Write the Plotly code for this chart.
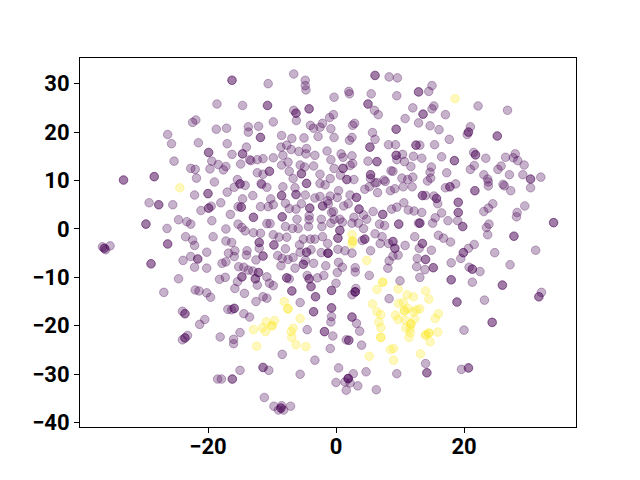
import plotly.graph_objects as go

# Estimated values; overlapping (darker) marks are listed twice.
purple_x = [-16.25,-16.25,-18.6,-14.6,-21.9,-22.4,-18.7,-17.1,-13.7,-13.7,-26.3,-25.7,-21.5,-17.0,-14,-19.9,-19.9,-16.25,-14.6,-14.6,-13.5,-25.3,-19.4,-18.4,-14.9,-22.7,-22.0,-19.7,-17.2,-17.6,-21.8,-33.2,-33.2,-28.4,-28.4,-19,-15.4,
-6.6,-10.6,-4.8,-4.8,-4.7,6.1,6.1,8.3,9.6,2.0,2.1,5.5,-0.3,12.9,12.9,9.5,5.0,5.0,-10.7,-10.7,-4.2,-4.2,-6.6,6.0,6.6,12.0,-6.25,-6.25,-6.2,-0.4,-1.0,10.8,-9.8,12.9,2.9,2.6,-2.1,-4.0,-3.5,-2.5,-12.1,-0.8,9.4,9.4,-2.8,-0.3,-8.5,-6.9,-5.0,-11.8,-11.8,5.7,6.1,2.5,2.1,5.3,5.3,8.2,9.3,12.5,12.5,-8.6,-7.7,-7.0,-5.8,-4.6,-4.7,-3.3,-1.4,0.8,1.1,2.5,-8.3,-9.8,-11.4,-12.3,-13.3,-0.8,9.4,9.4,10.4,9.5,10.7,12.1,5.0,6.4,6.4,11.7,-7.5,-8.5,-5.6,-4.9,-3.5,2.6,2.2,1.1,1.1,-0.3,8.9,8.6,-10.4,-10.4,-12.3,-11.4,-7.3,-5.4,-5.4,-2.5,5.4,5.4,0.7,-6.7,-0.9,1.7,1.7,2.8,5.4,7.5,10.3,12,11.2,-4.6,-4.6,-11.7,6.1,
15.0,14.5,22.2,26.8,15.3,15,13.6,13.6,17.1,14.7,16.1,21.0,20.7,20.7,20.5,25.2,25.2,17.7,15.4,13.1,21.5,21.8,21.8,23.4,16.5,13.4,18.5,18.5,28,26.5,27.7,28.4,29.4,21.6,21,25.8,25.3,14.9,14.7,17.3,23.1,23.7,27.1,29.2,30.4,30.4,32,14.8,14.3,18.7,26.1,23.8,
-22.1,-20.0,-20.0,-17,-15.9,-15,-15,-14.2,-14.6,-29.2,-27.7,-27.7,-25.5,-21.1,-19.9,-19.9,-19.5,-18,-15.3,-14.8,-14.8,-16.5,-24.6,-23.3,-22.7,-19.4,-29.7,-29.7,-26.4,-17.2,-15.3,-14.7,-14.2,-23.5,-19.2,-22.4,-22.1,-26.3,-26.3,-17.2,-16.3,-35.3,-36.5,-36.2,-36.2,-36,-15.8,-16.8,-15.9,-13.9,-14,-20.2,-22.7,-21.6,-21.6,-23.9,-28.9,-28.9,-22.1,-20.2,-17.8,-17.2,-15.2,-14.4,-14.7,-14.7,-15.4,-18.2,-17.3,-24.6,-15.8,-14.3,-26.9,-22,-21.4,-20.2,-19.6,-13.7,
-11.6,-10.8,-8.3,-6.4,-2.5,-1.7,5.2,4.5,6.4,7.7,9.2,8.5,11.9,10.5,6.5,-13,-10.2,-8.5,-8.5,-6.25,-6.25,-4.8,-3.3,-2.5,-1.3,0.4,0.2,-0.9,2.2,3.2,3.2,-9.8,-10.6,-11.8,-7.9,-5.4,-7.3,-6.25,-4.1,-4.1,-2.1,-2.1,-1.2,1.9,1.2,-0.4,3.6,3.6,5.8,7.3,7.3,8.7,9.5,10.6,11.3,12.2,-12.9,-12.9,-8.4,-8.4,-4.2,-4.2,-2.3,-0.7,-0.3,0.6,2.8,4.3,4.8,-10.8,-10.3,-6.1,-7.9,-6.8,-5.9,-4.3,-2.2,-0.8,1.0,2.5,3.5,4.3,6.8,7.6,9.8,9.8,12.9,0.6,0.6,-12.9,-11.8,-9.8,-8.9,-7.7,0.3,0.3,6.1,7.2,4.5,4.5,4.1,-5.1,-4,-3.3,-2.1,-1.3,6.9,8.2,8.9,8.9,9.2,9.2,10.8,12.3,-12,-12,-12,-9.7,-9.7,-5.7,-7.9,-5.6,-4.6,-4.6,-3.9,-2.3,-1.25,-1.25,-1.25,0.3,1.4,2.5,5.4,-11.4,-11.4,-12.5,-9.1,-8.4,-7.5,-6.7,-4.8,-3.5,-5.1,-5.1,-1.6,0.4,8.3,8.9,9.7,8.1,12.7,12.6,-8.6,-6.4,-13,-12.1,-12.1,-4.5,0.2,1,3,3,5.2,10,-12.6,-12.6,-10.8,-7.7,-7.7,-7.3,-4.2,-4.2,-2.9,-1.9,-12.3,-10.4,-9.8,-3.9,-3.9,0,-6.9,-6.9,-0.7,-0.7,3,3,3,2.5,3.1,8.3,-3.2,-3.2,-11.4,-10.8,-12.5,-5.6,
17.1,17.8,17.8,21.7,21.7,23.8,26.3,27.3,30.4,13.5,13.5,14,15.3,15.7,15.7,15.9,19.1,19.1,19.1,19.1,24.5,23.8,23.1,29.5,28.3,28.2,34,34,13.4,16.5,15.5,15.1,17.5,19,19.8,19.8,13.1,13.1,23.9,23.5,23.7,27.8,27.8,16,16.8,17.9,21.6,20.7,19.9,19.9,19.5,13.5,13.5,13,14.9,24.8,31.2,14,14,18,15.2,15.2,13.9,20.8,21.3,21.3,22.5,27.2,13.1,18,18,21.3,26,26,32.1,31.7,31.7,23.2,18.9,18.9,
-24,-23.6,-23.6,-20.5,-21.3,-16.9,-16.3,-15.9,-15.9,-14.4,-13.5,-23.2,-23.6,-23.6,-24,-18.1,-15,-16,-16,-15,-18.5,-17.9,-16.2,-16.2,
-3.5,-3.5,-0.7,-0.7,-0.7,-0.8,2.5,2.5,3.2,3.7,-4.5,-1.8,-1.8,-0.5,1.6,2,2,4,-0.9,-8.4,-3.3,-11.4,-11.4,-10.5,-5.6,0.4,2.7,4.7,9.5,1.9,1.9,1.9,0,1.4,2.2,3.4,1.6,6.3,-11.2,-9.7,-8.5,-7.1,-9,-8.6,-8.6,-8.2,
24.4,24.4,20,14,14.2,14.2,19.6,20.7,20.7]
purple_y = [30.7,30.7,25.8,25.5,22.5,22.0,20.6,20.8,21.1,20.0,19.5,17.6,17.8,17.6,16.9,15.8,15.8,15.4,15.5,15.5,14.3,14.0,14.0,13.3,13.4,12.5,12.3,12.4,12.9,12.2,10.5,10.1,10.1,10.8,10.8,9.7,10.2,
32.0,30.0,30.7,29.6,28.7,31.7,31.7,31.4,31.2,28.4,27.9,27.9,27.2,28.3,28.3,27.5,25.8,25.8,25.5,25.5,24.8,24.8,24.5,24.5,23.6,25.0,23.9,23.9,22.4,23.6,23.0,22.8,22.1,21.9,21.8,21.4,21.8,21.4,20.8,21.0,21.2,20.7,20.6,20.6,19.1,18.9,19.3,18.7,18.8,18.9,18.9,19.9,18.5,18.9,18.3,16.9,16.9,17.4,17.4,17.3,17.3,16.9,17.3,16.4,16.0,16.6,15.5,15.2,16.1,15.5,14.8,15.1,15.2,14.7,14.5,14.3,14.1,14.3,15.2,15.2,15.4,14.3,13.9,15.0,14.0,13.9,13.9,12.9,13.8,13.2,13.2,12.8,13.0,13.5,13.1,12.5,12.5,12.5,11.9,12.0,11.9,11.9,11.6,11.3,11.9,11.4,11.4,11.3,11.2,11.2,11.1,10.4,10.4,10.2,10.2,10.2,10.4,10.1,10.5,10.7,10.2,9.4,9.4,9.4,9.5,
29.6,28.4,25.4,24.5,25.4,24.8,23.7,23.7,23.6,21.3,20.5,21.1,20.0,20.0,19.5,19.2,19.2,18.5,17.4,17.3,15.8,15.3,15.3,14.6,14.9,14.6,14.1,14.1,15.5,14.8,14.7,14.1,13.2,13.1,12.3,13.0,12.3,12.8,11.7,11.6,11.2,10.3,11.2,11.2,10.3,10.3,10.7,10.5,9.9,9.3,9.2,9.7,
7.0,7.3,7.3,7.6,8.6,9.3,9.3,9.0,6.2,5.4,5.0,5.0,5.0,3.8,4.3,4.3,4.7,5.4,4.6,4.5,4.5,3.0,1.9,1.5,1.0,1.7,1.0,1.0,0.1,0,1.0,0.3,-0.4,-1.6,-1.6,-2.3,-3.4,-3.1,-3.1,-2.5,-2.8,-3.5,-3.7,-4.0,-4.0,-4.3,-4.5,-5.0,-5.7,-4.5,-5.4,-4.8,-5.7,-6.2,-6.2,-6.5,-7.2,-7.2,-7.9,-8.1,-7.1,-6.8,-7.8,-7.9,-9.9,-9.9,-10.9,-10.4,-10.0,-10.3,-12.3,-13.3,-13.1,-12.6,-12.8,-13.2,-14.1,-8.5,
9.2,8.6,8.7,8.5,9.4,9.1,8.7,8.2,9.6,9.8,8.3,7.9,8.7,8.7,7.5,6.9,6.2,6.9,6.9,7.1,7.1,7.0,6.4,6.7,5.8,7.9,6.5,6.8,7.0,6.5,6.5,5.0,4.6,4.6,5.3,5.2,4.2,4.1,4.3,4.3,4.75,4.75,5.2,5.2,4.75,3.6,4.1,4.1,3.6,3.0,3.0,4.1,4.5,5.4,3.9,3.7,2.4,2.4,2.5,2.5,2.7,1.9,2.0,3.4,2.0,2.0,2.4,2.9,2.0,1.1,1.1,2.0,0.5,0.1,0.1,0.5,0.5,1.2,1.4,1.2,1.2,0.1,1.0,0.7,1.0,1.0,1.2,-0.3,-0.3,-0.8,-0.9,-1.2,-1.7,-1.7,-1.9,-1.9,-1.0,-1.6,-2.1,-2.1,-2.4,-2.1,-2.1,-2.1,-1.6,-3,-3,-3,-2.6,-2.6,-4,-4,-3.4,-1.6,-2.8,-2.8,-4,-3.3,-3.3,-3.3,-4.1,-4.8,-4.8,-4.8,-4.3,-4.9,-5.0,-5.0,-5.0,-4.2,-4.5,-5.0,-4.5,-5.6,-5.6,-6.4,-5.5,-6.1,-6.3,-5.9,-6.5,-7.1,-7.3,-7.3,-7.6,-6.9,-6.6,-5.6,-5.4,-8.1,-6.1,-7.8,-7.6,-8.1,-8.7,-9.0,-9.0,-9.6,-9.0,-7.9,-8,-8.9,-9.6,-10.7,-10.3,-10.3,-9.9,-10.1,-10.1,-10.3,-10.3,-10.3,-10.1,-9.6,-11.6,-11.2,-11.7,-11.9,-11.9,-11.2,-12.8,-12.8,-12.7,-12.7,-13,-13,-13,-13.6,-12.3,-14.4,-14,-14,-14,-14.3,-15,-15.2,
8.5,8.7,8.7,7.9,7.9,8.9,8.9,7.9,8.5,6.9,6.9,6.9,6.8,6.3,6.3,5.2,5.5,5.5,3.4,3.4,5.2,4.3,3.6,4.75,3.4,2.5,1.3,1.3,3.4,3.3,2.3,1.2,1.7,1.7,0.5,0.5,1.2,1.2,1.0,0.3,-1.2,-1.5,-1.5,-1.3,-1.9,-2.7,-3.2,-4,-4.9,-4.9,-6.1,-3,-3,-4,-4.4,-4.9,-4.4,-6.3,-6.3,-7,-8,-8,-8.4,-7.9,-8.3,-8.3,-8.8,-7.4,-10,-10.5,-10.5,-11,-11.6,-11.6,-13.1,-14,-14,-14.7,-15.1,-15.1,
-17,-17.5,-17.5,-18.7,-19.7,-16.6,-16.7,-16.4,-16.4,-17.5,-18.2,-22,-22.5,-22.5,-22.9,-22.3,-21.4,-22.8,-23.7,-29.2,-31,-31,-31,-31,
-17.1,-17.1,-16.3,-16.3,-18.1,-19.2,-18.2,-18.2,-19.5,-21.1,-20.8,-21.2,-21.2,-22.1,-22.9,-23,-23,-24,-24.7,-25.9,-27.1,-28.6,-28.6,-29.2,-30,-28.7,-29.9,-29.5,-29.9,-30.9,-30.9,-30.9,-31.7,-31.6,-31.8,-32.4,-33.3,-33.2,-34.8,-36.6,-36.5,-36.6,-37.4,-37,-37,-37.4,
-19.3,-19.3,-20.9,-27.8,-29.7,-29.7,-29,-28.7,-28.7]

yellow_x = [18.6,-24.4,2.5,2.6,2.6,2.5,4.8,7.3,7.3,6.4,9.7,11.1,12.1,-8.1,5.7,10.5,14,14.5,-7.5,-7.5,-10.9,-9.6,-10,-10,-11.5,-11,-12.9,-6.7,-7,-6.9,-6.25,-4.7,-12.4,-5.6,6.4,7,6.7,7,7,7,5.2,8.5,9,9,13.2,9.8,9.3,9.7,10.7,10.7,11.2,12.1,12.6,10.8,12.3,11.7,11.7,10.9,11.6,11.6,11.4,16,15.5,13.1,14,14,14.5,14.5,15.9,14.7]
yellow_y = [26.9,8.5,-1.2,-2.5,-2.5,-3.1,-6.5,-11.0,-11.0,-12.5,-12.4,-13.6,-14,-15,-15.5,-15.2,-12.8,-14.5,-16.5,-16.5,-19.2,-18.9,-20,-20,-20.4,-21.2,-20.8,-20.5,-21.2,-22.4,-23.9,-24.3,-24.2,-18.5,-17.1,-17.7,-19.2,-20.4,-22.4,-22.4,-26.3,-24.9,-24.7,-27.1,-25.8,-15.4,-17.8,-18.7,-16.9,-16.9,-16.4,-17.1,-16.7,-18.8,-18.6,-19.6,-19.6,-20.5,-20.5,-21.4,-22.4,-17.5,-18.5,-16.5,-21.9,-21.9,-21.5,-21.5,-21.3,-23.3]

x_ticks = [-20, 0, 20]
x_labels = ["\u221220", "0", "20"]
y_ticks = [-40, -30, -20, -10, 0, 10, 20, 30]
y_labels = ["\u221240", "\u221230", "\u221220", "\u221210", "0", "10", "20", "30"]

n = min(len(purple_x), len(purple_y))
fig = go.Figure()
for xs, ys, col in [(yellow_x, yellow_y, "rgba(253,231,37,0.3)"), (purple_x[:n], purple_y[:n], "rgba(68,1,84,0.3)")]:
    fig.add_trace(go.Scatter(
        x=xs, y=ys, mode="markers", showlegend=False, hoverinfo="skip",
        marker=dict(size=8.6, color=col, line=dict(width=1, color=col)),
    ))

axis = dict(showgrid=False, zeroline=False, showline=True, mirror=True,
            linecolor="black", linewidth=1, ticks="outside", ticklen=5,
            tickwidth=1, tickcolor="black",
            tickfont=dict(family="Roboto", size=22, color="black", weight="bold"))
fig.update_layout(
    width=632, height=472, autosize=False,
    paper_bgcolor="white", plot_bgcolor="white",
    margin=dict(l=72, r=64, t=50, b=53),
    xaxis=dict(range=[-40, 37.5], tickmode="array", tickvals=x_ticks, ticktext=x_labels, ticklabelstandoff=-5, **axis),
    yaxis=dict(range=[-40.9, 35.3], tickmode="array", tickvals=y_ticks, ticktext=y_labels, **axis),
)
fig.write_html("out.html")
